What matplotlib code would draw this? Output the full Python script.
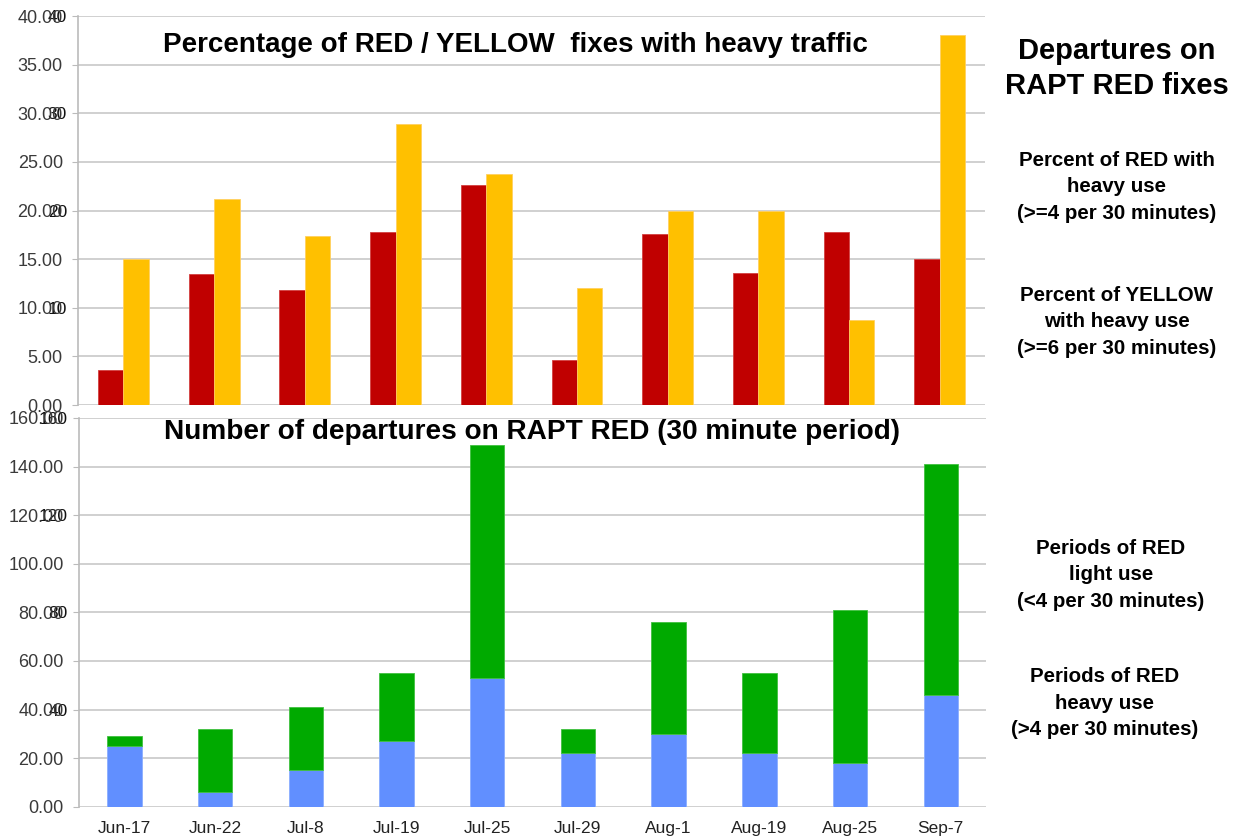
import matplotlib
matplotlib.use("Agg")
import matplotlib.pyplot as plt
import numpy as np

dates = ["Jun-17", "Jun-22", "Jul-8", "Jul-19", "Jul-25",
         "Jul-29", "Aug-1", "Aug-19", "Aug-25", "Sep-7"]
red_pct = [3.6, 13.5, 11.8, 17.8, 22.6, 4.6, 17.6, 13.6, 17.8, 15.0]
yellow_pct = [15.0, 21.2, 17.4, 28.9, 23.8, 12.0, 19.9, 19.9, 8.7, 38.0]
heavy_periods = [25, 6, 15, 27, 53, 22, 30, 22, 18, 46]
light_periods = [4, 26, 26, 28, 96, 10, 46, 33, 63, 95]

top_ticks = [0, 5, 10, 15, 20, 25, 30, 35, 40]
top_ticks2 = [10, 20, 30, 40]
bot_ticks = [0, 20, 40, 60, 80, 100, 120, 140, 160]
bot_ticks2 = [40, 80, 120, 160]

RED = "#c00000"
YELLOW = "#ffc000"
GREEN = "#00aa00"
BLUE = "#618fff"

plt.rcParams["font.family"] = ["Liberation Sans", "DejaVu Sans"]

fig = plt.figure(figsize=(12.41, 8.38), dpi=100)
ax1 = fig.add_axes([0.0629, 0.5167, 0.7309, 0.4642])
ax2 = fig.add_axes([0.0637, 0.0373, 0.7309, 0.4639])

x = np.arange(len(dates))
w = 0.28
ax1.bar(x - w / 2, red_pct, w, color=RED, edgecolor="#d24040", linewidth=0.6, zorder=3)
ax1.bar(x + w / 2, yellow_pct, w, color=YELLOW, edgecolor="#ffd060", linewidth=0.6, zorder=3)

bw = 0.38
ax2.bar(x, heavy_periods, bw, color=BLUE, edgecolor="#8aaeff", linewidth=0.6, zorder=3)
ax2.bar(x, light_periods, bw, bottom=heavy_periods, color=GREEN,
        edgecolor="#40c040", linewidth=0.6, zorder=3)

# two sets of y labels drawn on top of each other, like the original slide
for ax, ticks, ticks2, top in [(ax1, top_ticks, top_ticks2, 40),
                               (ax2, bot_ticks, bot_ticks2, 160)]:
    ax.set_xlim(-0.5, len(dates) - 0.5)
    ax.set_ylim(0, top)
    ax.set_yticks(ticks)
    ax.set_yticklabels([f"{t:.2f}" for t in ticks])
    ax.yaxis.grid(True, color="#c8c8c8", linewidth=1.2, zorder=0)
    ax.tick_params(axis="y", length=4, color="#bbbbbb", pad=7,
                   labelsize=13, labelcolor="#3a3a3a")
    for s in ["top", "right", "bottom"]:
        ax.spines[s].set_visible(False)
    ax.spines["left"].set_color("#bbbbbb")
    ax.spines["left"].set_linewidth(1.2)
    sec = ax.secondary_yaxis("left")
    sec.set_yticks(ticks2)
    sec.set_yticklabels([str(t) for t in ticks2])
    sec.tick_params(length=0, pad=8, labelsize=12.5, labelcolor="#111111")
    sec.spines["left"].set_visible(False)

ax1.set_xticks([])
ax2.set_xticks(x)
ax2.set_xticklabels(dates)
ax2.tick_params(axis="x", length=0, pad=10, labelsize=12.5, labelcolor="#222222")

fig.text(0.415, 0.946, "Percentage of RED / YELLOW  fixes with heavy traffic",
         ha="center", va="center", fontsize=20, fontweight="bold")
fig.text(0.4285, 0.485, "Number of departures on RAPT RED (30 minute period)",
         ha="center", va="center", fontsize=20.2, fontweight="bold")

fig.text(0.9, 0.918, "Departures on\nRAPT RED fixes", ha="center", va="center",
         fontsize=21, fontweight="bold", linespacing=1.3)
fig.text(0.900, 0.777, "Percent of RED with\nheavy use\n(>=4 per 30 minutes)",
         ha="center", va="center", fontsize=14.8, fontweight="bold", linespacing=1.5)
fig.text(0.900, 0.616, "Percent of YELLOW\nwith heavy use\n(>=6 per 30 minutes)",
         ha="center", va="center", fontsize=14.8, fontweight="bold", linespacing=1.5)
fig.text(0.895, 0.314, "Periods of RED\nlight use\n(<4 per 30 minutes)",
         ha="center", va="center", fontsize=14.8, fontweight="bold", linespacing=1.5)
fig.text(0.890, 0.161, "Periods of RED\nheavy use\n(>4 per 30 minutes)",
         ha="center", va="center", fontsize=14.8, fontweight="bold", linespacing=1.5)

fig.savefig("out.png", dpi=100)
